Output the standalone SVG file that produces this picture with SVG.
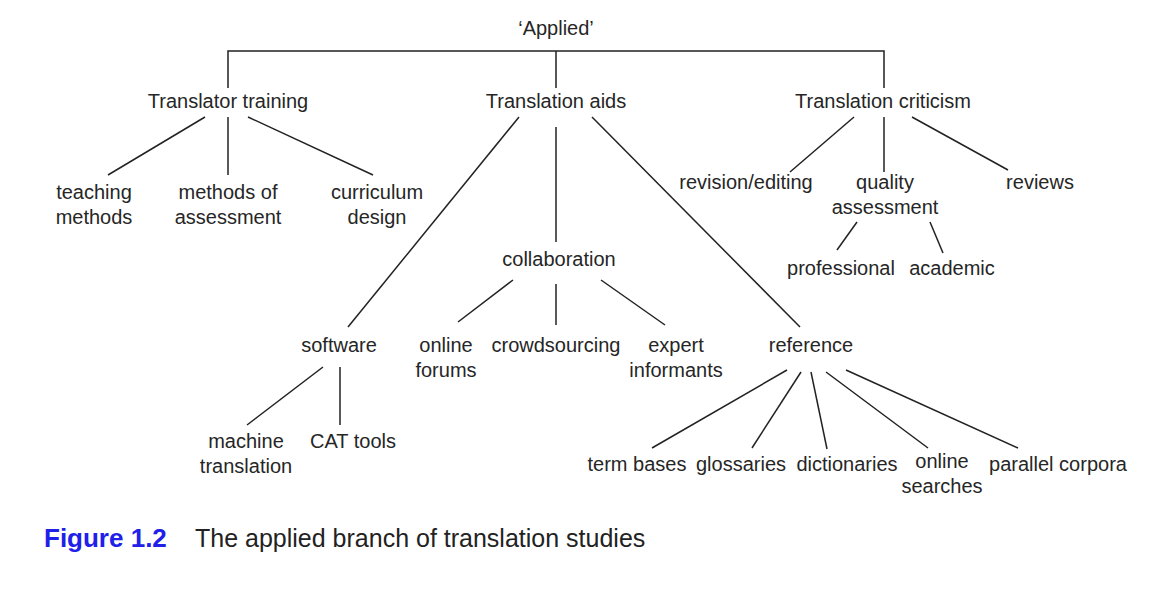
<svg xmlns="http://www.w3.org/2000/svg" width="1161" height="604" viewBox="0 0 1161 604">
<style>
text{font-family:"Liberation Sans",Arial,sans-serif;font-size:20px;fill:#262626;text-anchor:middle}
.c line,.c path{stroke:#222;stroke-width:1.5;fill:none}
.cap1{font-size:26px;font-weight:bold;fill:#2020e8;text-anchor:start}
.cap2{font-size:25px;fill:#222;text-anchor:start}
</style>
<rect width="1161" height="604" fill="#fff"/>
<g class="c" id="connectors">
<path d="M228 88V51H884V88M556 51V88"/>
<line x1="205" y1="117" x2="108" y2="175"/>
<line x1="228" y1="117" x2="228" y2="175"/>
<line x1="248" y1="117" x2="373" y2="175"/>
<line x1="519" y1="117" x2="348" y2="327"/>
<line x1="556" y1="127" x2="556" y2="242"/>
<line x1="592" y1="117" x2="800" y2="327"/>
<line x1="513" y1="280" x2="458" y2="322"/>
<line x1="556" y1="284" x2="556" y2="325"/>
<line x1="601" y1="280" x2="665" y2="325"/>
<line x1="323" y1="367" x2="247" y2="425"/>
<line x1="340" y1="367" x2="340" y2="425"/>
<line x1="787" y1="370" x2="652" y2="448"/>
<line x1="801" y1="372" x2="752" y2="448"/>
<line x1="811" y1="372" x2="827" y2="449"/>
<line x1="826" y1="372" x2="928" y2="448"/>
<line x1="846" y1="370" x2="1018" y2="448"/>
<line x1="854" y1="117" x2="790" y2="172"/>
<line x1="884" y1="117" x2="884" y2="172"/>
<line x1="912" y1="117" x2="1008" y2="170"/>
<line x1="857" y1="222" x2="837" y2="250"/>
<line x1="930" y1="222" x2="943" y2="253"/>
</g>
<g id="applied"><text x="556" y="35">‘Applied’</text></g>
<g id="translator-training"><text x="228" y="108">Translator training</text></g>
<g id="translation-aids"><text x="556" y="108">Translation aids</text></g>
<g id="translation-criticism"><text x="883" y="108">Translation criticism</text></g>
<g id="teaching-methods"><text x="94" y="199">teaching</text><text x="94" y="224">methods</text></g>
<g id="methods-of-assessment"><text x="228" y="199">methods of</text><text x="228" y="224">assessment</text></g>
<g id="curriculum-design"><text x="377" y="199">curriculum</text><text x="377" y="224">design</text></g>
<g id="collaboration"><text x="559" y="266">collaboration</text></g>
<g id="software"><text x="339" y="352">software</text></g>
<g id="online-forums"><text x="446" y="352">online</text><text x="446" y="377">forums</text></g>
<g id="crowdsourcing"><text x="556" y="352">crowdsourcing</text></g>
<g id="expert-informants"><text x="676" y="352">expert</text><text x="676" y="377">informants</text></g>
<g id="reference"><text x="811" y="352">reference</text></g>
<g id="machine-translation"><text x="246" y="448">machine</text><text x="246" y="473">translation</text></g>
<g id="cat-tools"><text x="353" y="448">CAT tools</text></g>
<g id="term-bases"><text x="637" y="471">term bases</text></g>
<g id="glossaries"><text x="741" y="471">glossaries</text></g>
<g id="dictionaries"><text x="847" y="471">dictionaries</text></g>
<g id="online-searches"><text x="942" y="468">online</text><text x="942" y="493">searches</text></g>
<g id="parallel-corpora"><text x="1058" y="471">parallel corpora</text></g>
<g id="revision-editing"><text x="746" y="189">revision/editing</text></g>
<g id="quality-assessment"><text x="885" y="189">quality</text><text x="885" y="214">assessment</text></g>
<g id="reviews"><text x="1040" y="189">reviews</text></g>
<g id="professional"><text x="841" y="275">professional</text></g>
<g id="academic"><text x="952" y="275">academic</text></g>
<g id="caption"><text class="cap1" x="44" y="547">Figure 1.2</text><text class="cap2" x="195" y="547">The applied branch of translation studies</text></g>
</svg>
